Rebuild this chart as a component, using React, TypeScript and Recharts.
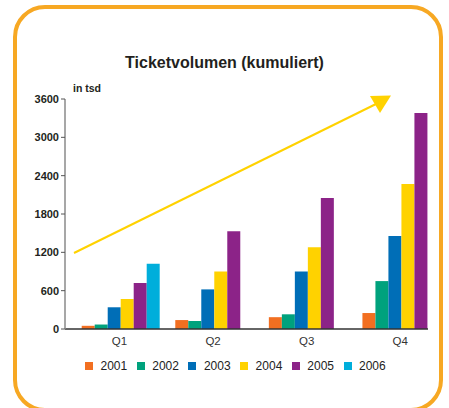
import React from 'react';
import { BarChart, Bar, XAxis, YAxis, Legend } from 'recharts';

const quarters = ['Q1', 'Q2', 'Q3', 'Q4'];
const years = ['2001', '2002', '2003', '2004', '2005', '2006'];
const v2001 = [50, 140, 185, 250];
const v2002 = [70, 125, 230, 750];
const v2003 = [340, 620, 900, 1455];
const v2004 = [470, 900, 1280, 2270];
const v2005 = [720, 1530, 2050, 3380];
const v2006 = [1020, null, null, null];
const yTicks = [0, 600, 1200, 1800, 2400, 3000, 3600];

const colors = ['#F26F21', '#00A27D', '#006EB7', '#FFD200', '#8C2388', '#00AEDB'];
const seriesValues = [v2001, v2002, v2003, v2004, v2005, v2006];

const data = quarters.map((q, i) => {
	const row: Record<string, any> = { quarter: q };
	years.forEach((y, k) => {
		row[y] = seriesValues[k][i];
	});
	return row;
});

const font = '"Liberation Sans", Arial, Helvetica, sans-serif';

const renderLegend = (props: any) => {
	const { payload } = props;
	return (
		<div style={{ display: 'flex', fontFamily: font, fontSize: 12, color: '#222' }}>
			{payload.map((entry: any) => (
				<div
					key={entry.value}
					style={{ display: 'flex', alignItems: 'center', marginRight: 9.5 }}
				>
					<span
						style={{
							display: 'inline-block',
							width: 8,
							height: 8,
							background: entry.color,
							marginRight: 7.5,
						}}
					/>
					<span>{entry.value}</span>
				</div>
			))}
		</div>
	);
};

export default function App() {
	return (
		<div
			style={{
				position: 'absolute',
				left: 0,
				top: 0,
				width: 449,
				height: 408,
				overflow: 'hidden',
				background: '#fff',
				fontFamily: font,
			}}
		>
			{/* orange frame, bottom edge runs off the picture */}
			<div
				style={{
					position: 'absolute',
					left: 12.5,
					top: 5,
					width: 430.5,
					height: 407,
					border: '4.5px solid #F7A823',
					borderRadius: 32,
					boxSizing: 'border-box',
				}}
			/>
			<div
				style={{
					position: 'absolute',
					left: 0,
					top: 54.5,
					width: 449,
					textAlign: 'center',
					fontSize: 16,
					lineHeight: '16px',
					fontWeight: 'bold',
					color: '#231F20',
				}}
			>
				Ticketvolumen (kumuliert)
			</div>
			<div
				style={{
					position: 'absolute',
					left: 73,
					top: 83,
					fontSize: 10.5,
					lineHeight: '10.5px',
					fontWeight: 'bold',
					color: '#231F20',
				}}
			>
				in tsd
			</div>
			<div style={{ position: 'absolute', left: 0, top: 0 }}>
				<BarChart
					width={449}
					height={408}
					data={data}
					margin={{ top: 99, right: 21, bottom: 59, left: 0 }}
					barGap={0}
					barCategoryGap={9}
				>
					<XAxis
						dataKey="quarter"
						height={20}
						padding={{ left: 7.7, right: -19 }}
						axisLine={{ stroke: '#333', strokeWidth: 1.5 }}
						tickLine={false}
						tick={{ fontSize: 11.5, fill: '#333', fontFamily: font }}
					/>
					<YAxis
						width={65}
						domain={[0, 3600]}
						ticks={yTicks}
						interval={0}
						axisLine={{ stroke: '#8a8a8a', strokeWidth: 1.5 }}
						tickLine={{ stroke: '#555' }}
						tickSize={4}
						tickMargin={2}
						tick={{ fontSize: 11, fill: '#231F20', fontWeight: 'bold', fontFamily: font }}
					/>
					<Legend
						layout="horizontal"
						verticalAlign="middle"
						align="center"
						content={renderLegend}
						wrapperStyle={{ left: 85, top: 359, width: 340, height: 16 }}
					/>
					{years.map((y, k) => (
						<Bar key={y} dataKey={y} fill={colors[k]} isAnimationActive={false} />
					))}
				</BarChart>
			</div>
			<svg
				width={449}
				height={408}
				style={{ position: 'absolute', left: 0, top: 0, pointerEvents: 'none' }}
			>
				<line x1={74} y1={253} x2={376} y2={104} stroke="#FFD200" strokeWidth={2} />
				<polygon points="370,96 391,95.5 380,113" fill="#FFD200" />
			</svg>
		</div>
	);
}
